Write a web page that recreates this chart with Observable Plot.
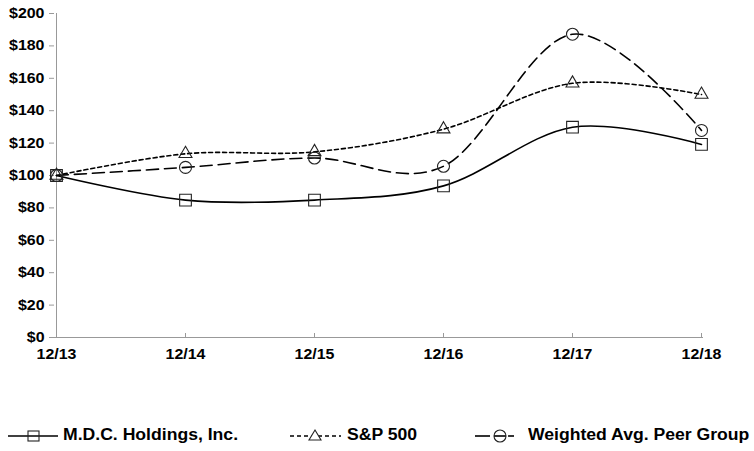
<!DOCTYPE html>
<html><head><meta charset="utf-8">
<script src="https://cdn.jsdelivr.net/npm/d3@7"></script>
<script src="https://cdn.jsdelivr.net/npm/@observablehq/plot@0.6"></script>
<style>
body{margin:0;background:#fff;font-family:"Liberation Sans",Arial,sans-serif;}
#wrap{position:relative;width:754px;height:451px;overflow:hidden;}
#legend{position:absolute;left:0;top:423px;width:754px;height:24px;}
.item{position:absolute;top:0;height:24px;display:flex;align-items:center;font-weight:bold;font-size:16px;color:#000;white-space:nowrap;transform:scaleX(1.1);transform-origin:0 50%;}
.sw{position:absolute;top:3px;}
</style></head><body>
<div id="wrap"><div id="chart"></div><div id="legend"></div></div>
<script>
const years = ["12/13","12/14","12/15","12/16","12/17","12/18"];
const mdcValues = [100, 84.8, 84.8, 93.6, 129.8, 119.2];
const spValues = [100, 113.4, 114.6, 128.6, 156.9, 150];
const peerValues = [100, 105, 110.8, 105.7, 187.2, 127.8];
const yTicks = [0, 20, 40, 60, 80, 100, 120, 140, 160, 180, 200];
const seriesNames = ["M.D.C. Holdings, Inc.", "S&P 500", "Weighted Avg. Peer Group"];

const series = [
  {name: seriesNames[0], values: mdcValues, symbol: "square", r: 6.6, dash: null},
  {name: seriesNames[1], values: spValues, symbol: "triangle", r: 4.8, dash: "4,3"},
  {name: seriesNames[2], values: peerValues, symbol: "circle", r: 6, dash: "12,6"}
];
const rows = series.flatMap(s => s.values.map((v, i) => ({series: s.name, year: years[i], value: v})));

const lineMarks = series.map(s => Plot.line(rows.filter(d => d.series === s.name), {
  x: "year", y: "value", curve: "cardinal", tension: 0,
  stroke: "#000", strokeWidth: 1.6, strokeDasharray: s.dash
}));
const dotMarks = series.map(s => Plot.dot(rows.filter(d => d.series === s.name), {
  x: "year", y: "value", symbol: s.symbol, r: s.r, fill: "none", stroke: "#222", strokeWidth: 1.1
}));

const chart = Plot.plot({
  className: "chart",
  width: 754, height: 366,
  marginLeft: 54, marginRight: 51, marginTop: 13, marginBottom: 29,
  x: {type: "point", domain: years, padding: 0},
  y: {domain: [0, 200]},
  style: {fontFamily: '"Liberation Sans", Arial, sans-serif', fontSize: "14px", fontWeight: "bold", color: "#000", background: "#fff", overflow: "visible"},
  marks: [
    Plot.ruleY([0], {stroke: "#999", strokeWidth: 1}),
    Plot.ruleX([years[0]], {stroke: "#999", strokeWidth: 1}),
    Plot.ruleX(years, {x: d => d, y1: 0, y2: 0, insetTop: -4, stroke: "#999"}),
    Plot.axisY({ticks: yTicks, tickSize: 5, tickPadding: 5, tickFormat: d => "$" + d, stroke: "#999", fill: "#000", label: null}),
    Plot.axisX({tickSize: 0, tickPadding: 12, fill: "#000", label: null}),
    ...lineMarks,
    ...dotMarks
  ]
});
// widen tick label glyphs horizontally like the reference
chart.querySelectorAll('g[aria-label="y-axis tick label"] text, g[aria-label="x-axis tick label"] text').forEach(t => {
  const tr = t.getAttribute("transform") || "";
  t.setAttribute("transform", tr + " scale(1.14,1)");
});
document.getElementById("chart").appendChild(chart);

// legend
const legend = document.getElementById("legend");
const legendPos = [{sw: 6, tx: 63}, {sw: 288, tx: 347}, {sw: 472, tx: 528}];
const swatchSvg = [
  `<svg width="54" height="20"><line x1="2" y1="10" x2="52" y2="10" stroke="#000" stroke-width="1.6"/><rect x="22" y="5" width="11" height="10" fill="none" stroke="#222" stroke-width="1.1"/></svg>`,
  `<svg width="54" height="20"><line x1="2" y1="10" x2="53" y2="10" stroke="#000" stroke-width="1.6" stroke-dasharray="4,3"/><path d="M27,4 L33,14 L21,14 Z" fill="#fff" stroke="#222" stroke-width="1.1"/></svg>`,
  `<svg width="54" height="20"><line x1="3" y1="10" x2="18" y2="10" stroke="#000" stroke-width="1.6"/><line x1="36" y1="10" x2="42" y2="10" stroke="#000" stroke-width="1.6"/><line x1="22" y1="10" x2="34" y2="10" stroke="#000" stroke-width="1.6"/><circle cx="28" cy="10" r="6" fill="none" stroke="#222" stroke-width="1.1"/></svg>`
];
series.forEach((s, i) => {
  const sw = document.createElement("div");
  sw.className = "sw";
  sw.style.left = legendPos[i].sw + "px";
  sw.innerHTML = swatchSvg[i];
  legend.appendChild(sw);
  const t = document.createElement("div");
  t.className = "item";
  t.style.left = legendPos[i].tx + "px";
  t.textContent = s.name;
  legend.appendChild(t);
});
</script>
</body></html>
